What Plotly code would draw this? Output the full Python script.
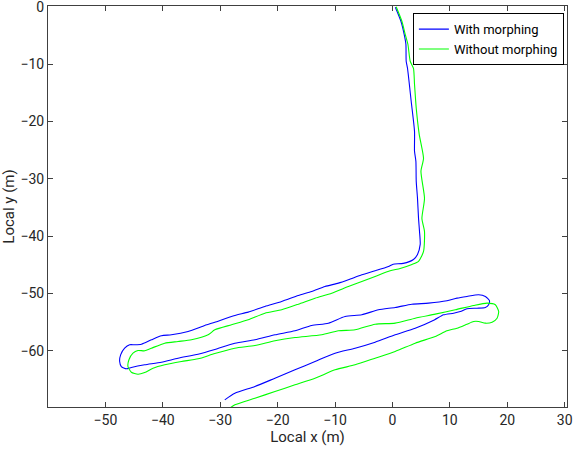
import plotly.graph_objects as go

# Trajectory "With morphing" (local x, local y in metres)
with_x = [0.5, 1.47, 2.04, 2.34, 2.39, 2.62, 3.26, 3.84, 3.84, 4.08, 4.14, 4.36, 4.54, 4.71, 4.83, 4.36, 3.66, 1.87,
          0.12, -0.70, -3.02, -5.34, -7.68, -9.42, -11.75, -14.07, -16.40, -19.30, -22.22, -25.13, -27.45, -30.94,
          -32.69, -35.60, -38.50, -40.24, -41.99, -43.73, -44.90, -45.78, -46.65, -47.35, -47.52, -47.23, -46.35,
          -45.48, -43.16, -40.24, -37.35, -33.86, -30.94, -27.45, -23.96, -20.47, -16.98, -14.07, -11.17, -8.25,
          -5.34, -2.44, 0.47, 3.39, 6.28, 9.49, 11.24, 12.98, 15.01, 16.18, 16.88, 16.75, 16.18, 14.73, 12.98,
          11.82, 10.65, 8.90, 7.28, 3.96, 0.47, -3.02, -6.51, -10.0, -13.49, -16.98, -20.47, -23.96, -27.45, -29.21]
with_y = [-0.09, -2.53, -4.80, -6.54, -9.51, -10.73, -16.49, -21.73, -25.2, -26.96, -30.45, -33.42, -36.91, -39.18,
          -41.45, -43.19, -44.07, -44.76, -44.89, -45.29, -46.04, -46.74, -47.61, -48.20, -48.78, -49.65, -50.35,
          -51.40, -52.27, -53.26, -53.84, -55.01, -55.58, -56.63, -57.21, -57.38, -58.08, -58.85, -58.95, -58.95,
          -59.55, -60.70, -61.87, -62.74, -63.14, -62.91, -62.44, -61.99, -61.29, -60.59, -59.77, -58.67, -58.08,
          -57.21, -56.51, -55.58, -55.18, -54.01, -53.72, -52.84, -52.44, -51.87, -51.69, -51.27, -50.82, -50.52,
          -50.23, -50.52, -51.22, -51.97, -52.44, -52.57, -52.67, -53.14, -53.44, -53.72, -54.62, -56.06, -57.21,
          -58.50, -59.55, -60.42, -61.87, -63.32, -64.78, -66.23, -67.40, -68.55]

# Trajectory "Without morphing"
without_x = [0.65, 1.64, 2.22, 2.69, 3.09, 3.66, 3.84, 4.14, 4.66, 5.41, 4.96, 5.58, 5.13, 5.58, 5.41, 4.54, 3.39,
             1.34, -0.40, -3.02, -5.34, -7.68, -10.58, -13.49, -16.40, -19.30, -22.22, -25.13, -28.03, -30.94,
             -32.11, -35.01, -37.35, -39.67, -41.99, -43.16, -44.33, -45.20, -45.90, -46.07, -45.48, -44.33,
             -43.16, -41.71, -39.67, -36.75, -33.86, -30.94, -27.45, -23.96, -20.47, -16.98, -12.32, -9.42, -6.51,
             -3.02, 0.47, 3.96, 7.45, 10.94, 14.14, 16.47, 17.92, 18.50, 18.22, 17.35, 16.18, 15.01, 14.14, 12.98,
             11.24, 9.49, 7.45, 3.96, 0.47, -3.02, -6.51, -10.0, -13.49, -16.98, -20.47, -23.96, -27.45, -28.67]
without_y = [0.0, -2.53, -4.80, -6.54, -9.51, -10.73, -13.53, -17.71, -22.25, -26.44, -28.71, -33.42, -36.91,
             -39.18, -42.67, -44.42, -44.94, -45.64, -46.04, -47.03, -47.91, -48.78, -49.95, -50.82, -51.87,
             -52.84, -53.44, -54.59, -55.46, -56.34, -57.21, -58.08, -58.38, -58.67, -59.55, -60.0, -59.95, -60.42,
             -61.57, -62.74, -63.74, -64.08, -63.79, -63.04, -62.44, -61.87, -61.40, -60.47, -59.55, -59.08,
             -58.25, -57.68, -57.21, -56.51, -56.34, -55.36, -55.18, -54.31, -53.61, -52.84, -52.09, -51.69,
             -51.97, -53.14, -54.31, -55.01, -55.18, -54.89, -54.89, -55.36, -56.06, -56.51, -57.50, -58.67,
             -60.12, -61.29, -62.44, -63.32, -64.78, -65.93, -67.10, -68.27, -69.42, -70.24]

x_ticks = [-50, -40, -30, -20, -10, 0, 10, 20, 30]
y_ticks = [0, -10, -20, -30, -40, -50, -60]

fig = go.Figure()
fig.add_trace(go.Scatter(x=with_x, y=with_y, mode="lines", name="With morphing",
                         line=dict(color="#0000ff", width=1.1, shape="spline", smoothing=0.6)))
fig.add_trace(go.Scatter(x=without_x, y=without_y, mode="lines", name="Without morphing",
                         line=dict(color="#00ff00", width=1.1, shape="spline", smoothing=0.6)))

axis_common = dict(showgrid=False, zeroline=False, showline=True, linecolor="#404040", linewidth=1,
                   mirror="ticks", ticks="inside", ticklen=5, tickcolor="#404040", automargin=False,
                   ticklabeloverflow="allow", tickfont=dict(size=14, color="#262626"))

fig.update_layout(
    width=574, height=453,
    margin=dict(l=48, r=7, t=5.5, b=46),
    paper_bgcolor="white", plot_bgcolor="white",
    font=dict(family="Roboto", color="#262626"),
    xaxis=dict(range=[-60, 30.4], tickvals=x_ticks,
               title=dict(text="Local x (m)", font=dict(size=15, color="#262626"), standoff=4),
               **axis_common),
    yaxis=dict(range=[-69.8, 0.13], tickvals=y_ticks,
               title=dict(text="Local y (m)", font=dict(size=15, color="#262626"), standoff=7),
               **axis_common),
    legend=dict(x=0.994, y=0.982, xanchor="right", yanchor="top",
                bgcolor="white", bordercolor="#000000", borderwidth=1,
                font=dict(size=13, color="#000000"), tracegroupgap=0),
    showlegend=True,
)

fig.write_html("out.html", config={"displayModeBar": False},
               post_script="document.body.style.margin='0';")
